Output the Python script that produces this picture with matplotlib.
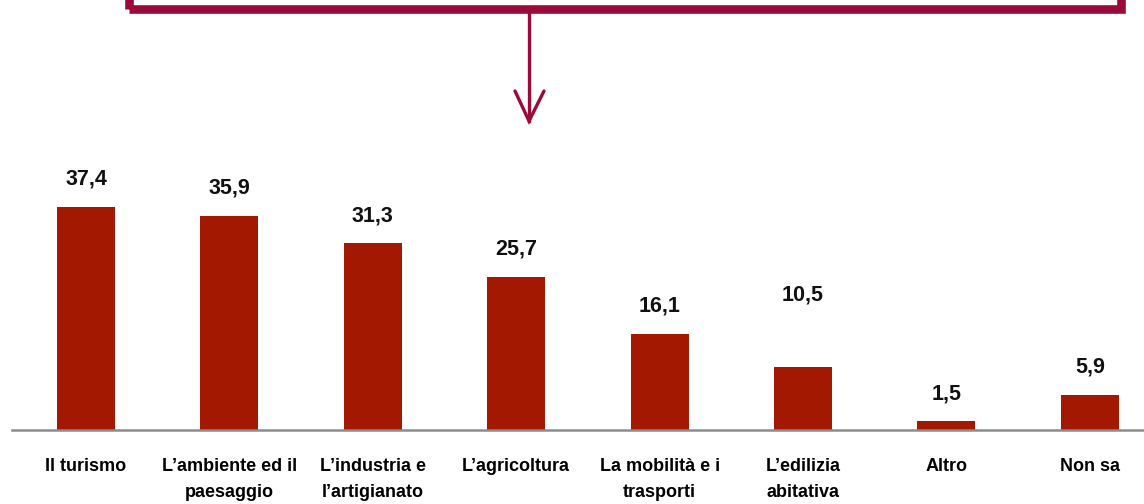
import matplotlib
matplotlib.use('Agg')
import matplotlib.pyplot as plt
from matplotlib.lines import Line2D
from matplotlib.patches import Rectangle

# data
categories = ['Il turismo', 'L\u2019ambiente ed il\npaesaggio', 'L\u2019industria e\nl\u2019artigianato',
              'L\u2019agricoltura', 'La mobilit\u00e0 e i\ntrasporti', 'L\u2019edilizia\nabitativa',
              'Altro', 'Non sa']
values = [37.4, 35.9, 31.3, 25.7, 16.1, 10.5, 1.5, 5.9]
value_labels = ['37,4', '35,9', '31,3', '25,7', '16,1', '10,5', '1,5', '5,9']

bar_color = '#a31800'
frame_color = '#9c0a38'
W, H = 1144, 504

plt.rcParams['font.family'] = ['Liberation Sans', 'DejaVu Sans']

fig = plt.figure(figsize=(W / 100, H / 100), dpi=100)
ax = fig.add_axes([12 / W, (H - 430) / H, 1 - 12 / W, 300 / H])

x = list(range(len(values)))
bars = ax.bar(x, values, width=0.405, color=bar_color, zorder=2)

#labels above bars (the 10,5 label sits higher in the original)
extra = [0, 0, 0, 0, 0, 7.5, 0, 0]
for b, lab, e in zip(bars, value_labels, extra):
    ax.annotate(lab, (b.get_x() + b.get_width() / 2, b.get_height() + e),
                xytext=(0, 17), textcoords='offset pixels', ha='center', va='bottom',
                fontsize=15.5, fontweight='bold', color='#111111')

ax.set_xlim(-0.516, 7.378)
ax.set_ylim(0, 50.3)
ax.set_xticks(x)
ax.set_xticklabels(categories, fontsize=13, fontweight='bold', linespacing=1.72, va='top')
ax.tick_params(axis='x', length=0, pad=20)
ax.set_yticks([])
for s in ['top', 'right', 'left']:
    ax.spines[s].set_visible(False)
ax.spines['bottom'].set_color('#8c8c8c')
ax.spines['bottom'].set_linewidth(1.8)
ax.patch.set_visible(False)

#frame box (extends above the picture) and the arrow
def fx(px):
    return px / W

def fy(py):
    return (H - py) / H

fig.add_artist(Rectangle((fx(128.5), fy(9)), fx(1121) - fx(128.5), 0.2,
                         transform=fig.transFigure, fill=False, edgecolor=frame_color,
                         linewidth=6.2, clip_on=False))
fig.add_artist(Line2D([fx(529), fx(529)], [fy(13), fy(121)], color=frame_color,
                      linewidth=2.4, transform=fig.transFigure))
fig.add_artist(Line2D([fx(515), fx(529), fx(544)], [fy(91), fy(121), fy(91)], color=frame_color,
                      linewidth=2.4, transform=fig.transFigure, solid_capstyle='round',
                      solid_joinstyle='miter'))

plt.savefig('out.png', dpi=100)
